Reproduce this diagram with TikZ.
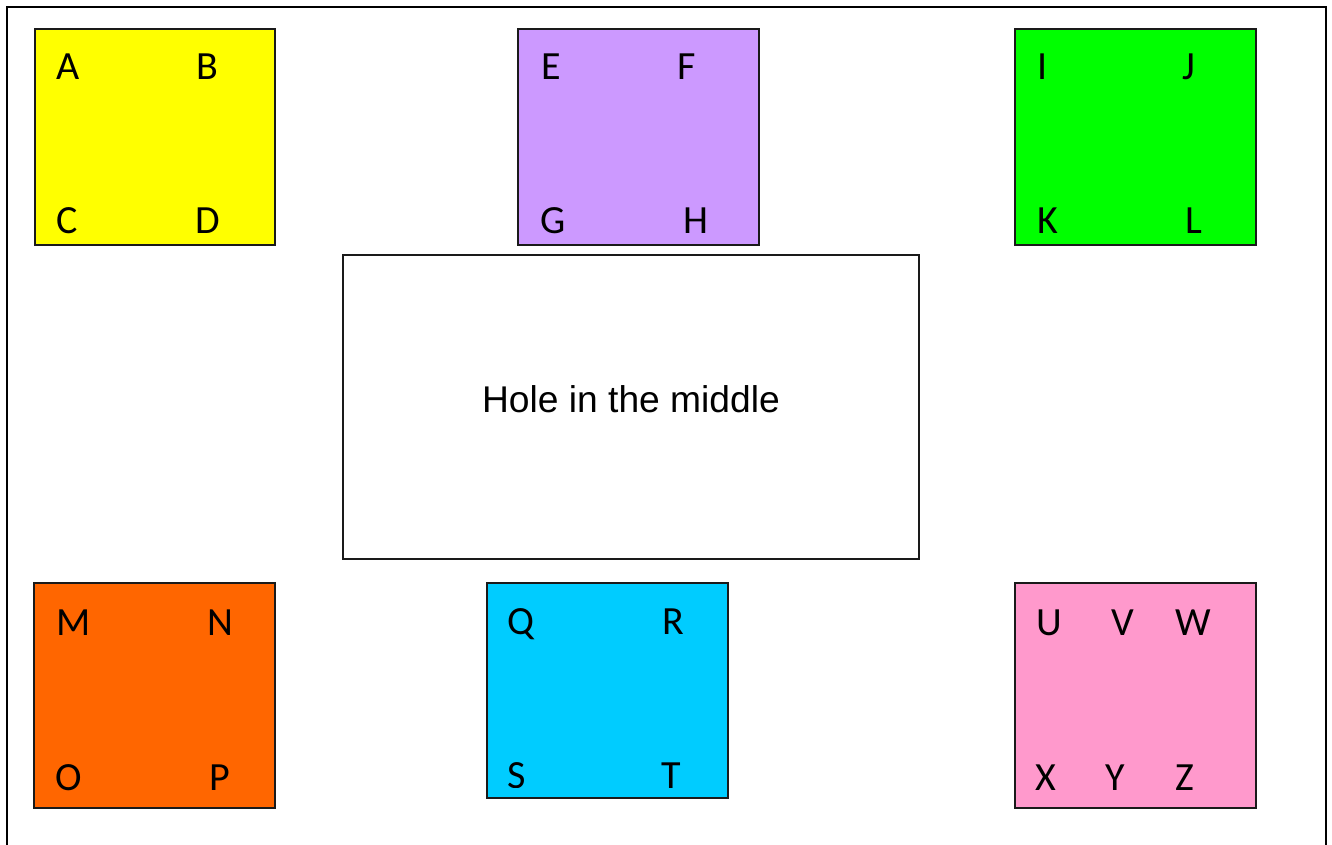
\documentclass[tikz,border=0pt]{standalone}
\usepackage{fontspec}
\setmainfont{Carlito}
\newfontfamily\arialfont{Liberation Sans}
\definecolor{cyellow}{HTML}{FFFF00}
\definecolor{cpurple}{HTML}{CC99FF}
\definecolor{cgreen}{HTML}{00FF00}
\definecolor{corange}{HTML}{FF6600}
\definecolor{cblue}{HTML}{00CCFF}
\definecolor{cpink}{HTML}{FF99CC}
\definecolor{edge}{HTML}{1A1A1A}
\tikzset{
  colbox/.style={draw=edge, line width=1.3pt, anchor=north west, inner sep=0pt, outer sep=0pt},
  letter/.style={anchor=base west, inner sep=0pt, outer sep=0pt, font=\fontsize{40}{48}\selectfont},
  frameline/.style={draw=black, line width=2pt}
}
\begin{document}
\begin{tikzpicture}[x=1pt,y=-1pt]
\useasboundingbox (0,0) rectangle (1332,845);
% outer frame
\coordinate (fbl) at (7,846);
\coordinate (ftl) at (7,7);
\coordinate (ftr) at (1326,7);
\coordinate (fbr) at (1326,846);
\draw[frameline] (fbl) -- (ftl) -- (ftr) -- (fbr);
% boxes
\node[colbox, fill=cyellow, minimum width=240pt, minimum height=216pt] (ybox) at (35,29) {};
\node[colbox, fill=cpurple, minimum width=241pt, minimum height=216pt] (pbox) at (518,29) {};
\node[colbox, fill=cgreen, minimum width=241pt, minimum height=216pt] (gbox) at (1015,29) {};
\node[colbox, fill=white, minimum width=576pt, minimum height=304pt] (hbox) at (343,255) {};
\node[colbox, fill=corange, minimum width=241pt, minimum height=225pt] (obox) at (34,583) {};
\node[colbox, fill=cblue, minimum width=241pt, minimum height=215pt] (bbox) at (487,583) {};
\node[colbox, fill=cpink, minimum width=241pt, minimum height=225pt] (kbox) at (1015,583) {};
% middle text
\node[anchor=base, inner sep=0pt, font=\arialfont\fontsize{37.2}{44}\selectfont] (hole) at (631,412) {Hole in the middle};
% yellow
\node[letter] (lA) at (56,80) {A};
\node[letter] (lB) at (196,80) {B};
\node[letter] (lC) at (56,233) {C};
\node[letter] (lD) at (195,233) {D};
% purple
\node[letter] (lE) at (541,80) {E};
\node[letter] (lF) at (677,80) {F};
\node[letter] (lG) at (540,233) {G};
\node[letter] (lH) at (683,233) {H};
% green
\node[letter] (lI) at (1037,80) {I};
\node[letter] (lJ) at (1182,80) {J};
\node[letter] (lK) at (1037,233) {K};
\node[letter] (lL) at (1185,233) {L};
% orange
\node[letter] (lM) at (56,635) {M};
\node[letter] (lN) at (207,635) {N};
\node[letter] (lO) at (55,790) {O};
\node[letter] (lP) at (209,790) {P};
% blue
\node[letter] (lQ) at (507,634) {Q};
\node[letter] (lR) at (662,634) {R};
\begin{scope}
\clip (487,583) rectangle (728,787);
\node[letter] (lS) at (507,788) {S};
\end{scope}
\node[letter] (lT) at (661,788) {T};
% pink
\node[letter] (lU) at (1036,635) {U};
\node[letter] (lV) at (1111,635) {V};
\node[letter] (lW) at (1175,635) {W};
\node[letter] (lX) at (1035,790) {X};
\node[letter] (lY) at (1105,790) {Y};
\node[letter] (lZ) at (1175,790) {Z};
\end{tikzpicture}
\end{document}
